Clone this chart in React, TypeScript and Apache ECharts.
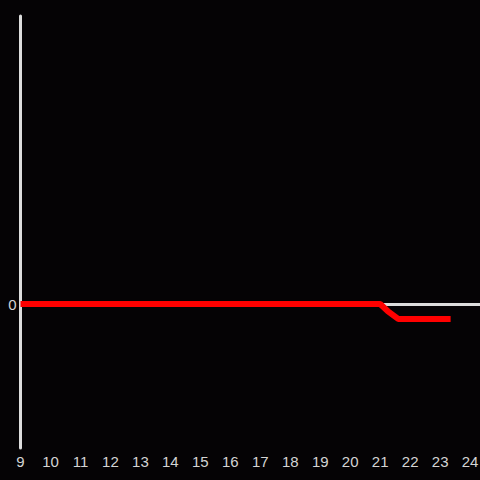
import React, { useEffect, useRef } from "react";
import * as echarts from "echarts";

const hours = [9, 10, 11, 12, 13, 14, 15, 16, 17, 18, 19, 20, 21, 21.25, 21.6, 23.35];
const values = [0, 0, 0, 0, 0, 0, 0, 0, 0, 0, 0, 0, 0, -0.049, -0.104, -0.104];
const xMin = 9;
const xMax = 24.33;
const yMin = -1;
const yMax = 2;

export default function App() {
  const ref = useRef<HTMLDivElement>(null);
  useEffect(() => {
    if (!ref.current) return;
    const chart = echarts.init(ref.current, undefined, { renderer: "svg" });
    chart.setOption({
      animation: false,
      backgroundColor: "#050305",
      textStyle: { fontFamily: "Liberation Sans, Arial, sans-serif" },
      grid: { left: 20.5, right: 0, top: 16, bottom: 32, containLabel: false, outerBoundsMode: "none" },
      xAxis: {
        type: "value",
        min: xMin,
        max: xMax,
        interval: 1,
        axisLine: { show: false },
        axisTick: { show: false },
        splitLine: { show: false },
        axisLabel: {
          color: "#d4d4d4",
          fontSize: 15,
          margin: 6,
          fontFamily: "Liberation Sans, Arial, sans-serif",
          formatter: (v: number) => (Math.abs(v - Math.round(v)) < 1e-6 ? String(Math.round(v)) : ""),
        },
      },
      yAxis: {
        type: "value",
        min: yMin,
        max: yMax,
        interval: 1,
        axisLine: { show: true, onZero: false, lineStyle: { color: "#dddddd", width: 3 } },
        axisTick: { show: false },
        splitLine: { show: false },
        axisLabel: {
          color: "#d4d4d4",
          fontSize: 15,
          margin: 4,
          fontFamily: "Liberation Sans, Arial, sans-serif",
          formatter: (v: number) => (v === 0 ? "0" : ""),
        },
      },
      series: [
        {
          type: "line",
          data: hours.map((h, i) => [h, values[i]]),
          showSymbol: false,
          symbol: "none",
          lineStyle: { color: "#ff0000", width: 6 },
          z: 3,
          markLine: {
            silent: true,
            symbol: "none",
            label: { show: false },
            lineStyle: { color: "#dddddd", width: 3, type: "solid" },
            data: [{ yAxis: 0 }],
            z: 1,
          },
        },
      ],
    });
    return () => chart.dispose();
  }, []);
  return <div ref={ref} style={{ position: "fixed", left: 0, top: 0, width: 480, height: 480 }} />;
}
